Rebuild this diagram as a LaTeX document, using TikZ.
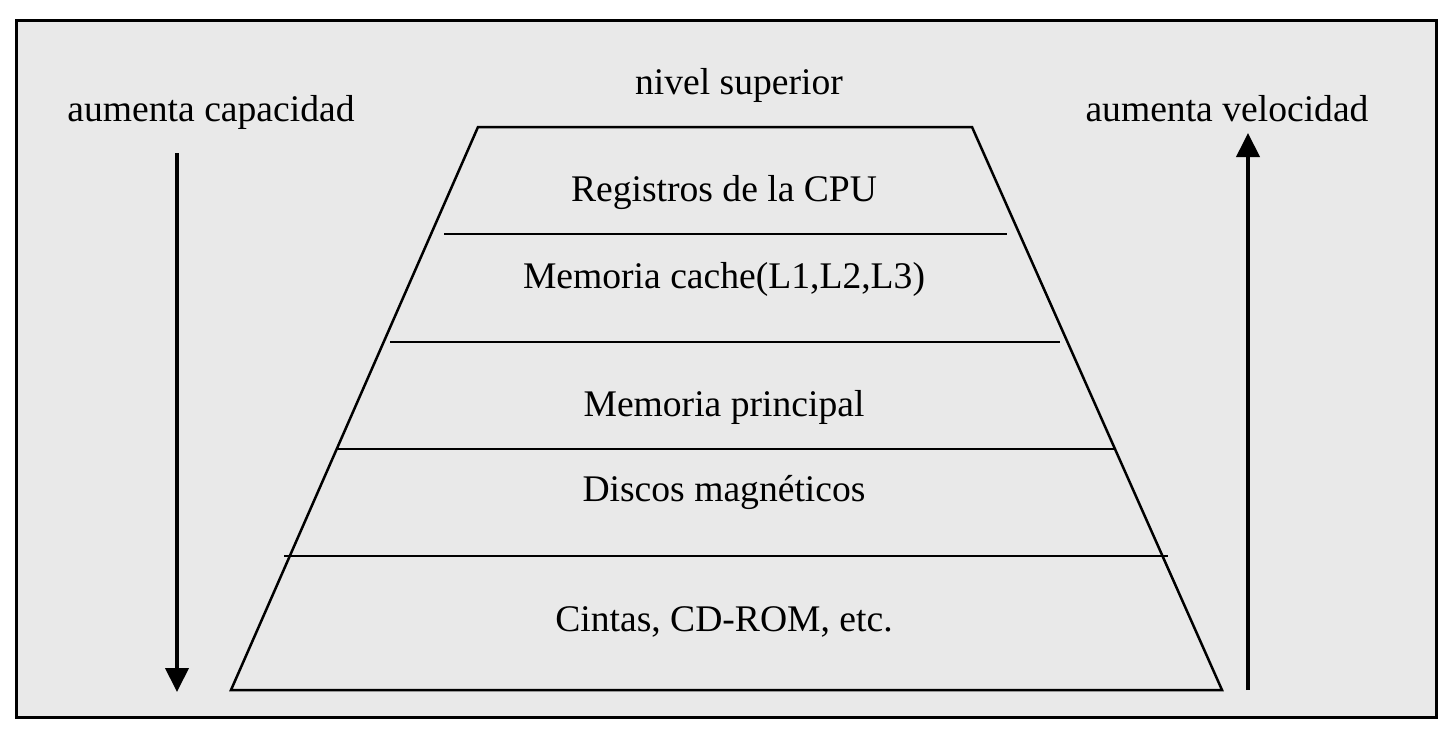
\documentclass[tikz,border=0pt]{standalone}
\usepackage{fontspec}
\setmainfont{Liberation Serif}
\usetikzlibrary{arrows.meta}
\definecolor{bggray}{HTML}{E9E9E9}
\tikzset{
  lbl/.style={font=\fontsize{18.8pt}{22pt}\selectfont, inner sep=0pt, anchor=base},
  edge/.style={line width=1.25pt},
  bigarrow/.style={line width=2pt, -{Triangle[width=11.5pt,length=12pt]}},
}
\begin{document}
\begin{tikzpicture}[x=0.5pt,y=-0.5pt]
\useasboundingbox (0,0) rectangle (1446,734);
\draw[line width=1.5pt, fill=bggray] (16,20) rectangle (1436,717);
% trapezoid
\draw[edge, line join=miter] (478,127) -- (972,127) -- (1222,690) -- (231,690) -- cycle;
\draw[edge] (444,234) -- (1007,234);
\draw[edge] (390,342) -- (1060,342);
\draw[edge] (337,449) -- (1115,449);
\draw[edge] (284,556) -- (1168,556);
% texts
\node[lbl] (top) at (739,94) {nivel superior};
\node[lbl] (cap) at (211,121) {aumenta capacidad};
\node[lbl] (vel) at (1227,121) {aumenta velocidad};
\node[lbl] (reg) at (724,201) {Registros de la CPU};
\node[lbl] (cache) at (724,288) {Memoria cache(L1,L2,L3)};
\node[lbl] (mp) at (724,416) {Memoria principal};
\node[lbl] (disc) at (724,501) {Discos magnéticos};
\node[lbl] (cint) at (724,631) {Cintas, CD-ROM, etc.};
% arrows
\coordinate (capA) at (177,153);
\coordinate (capB) at (177,692);
\coordinate (velA) at (1248,690);
\coordinate (velB) at (1248,133);
\draw[bigarrow] (capA) -- (capB);
\draw[bigarrow] (velA) -- (velB);
\end{tikzpicture}
\end{document}
